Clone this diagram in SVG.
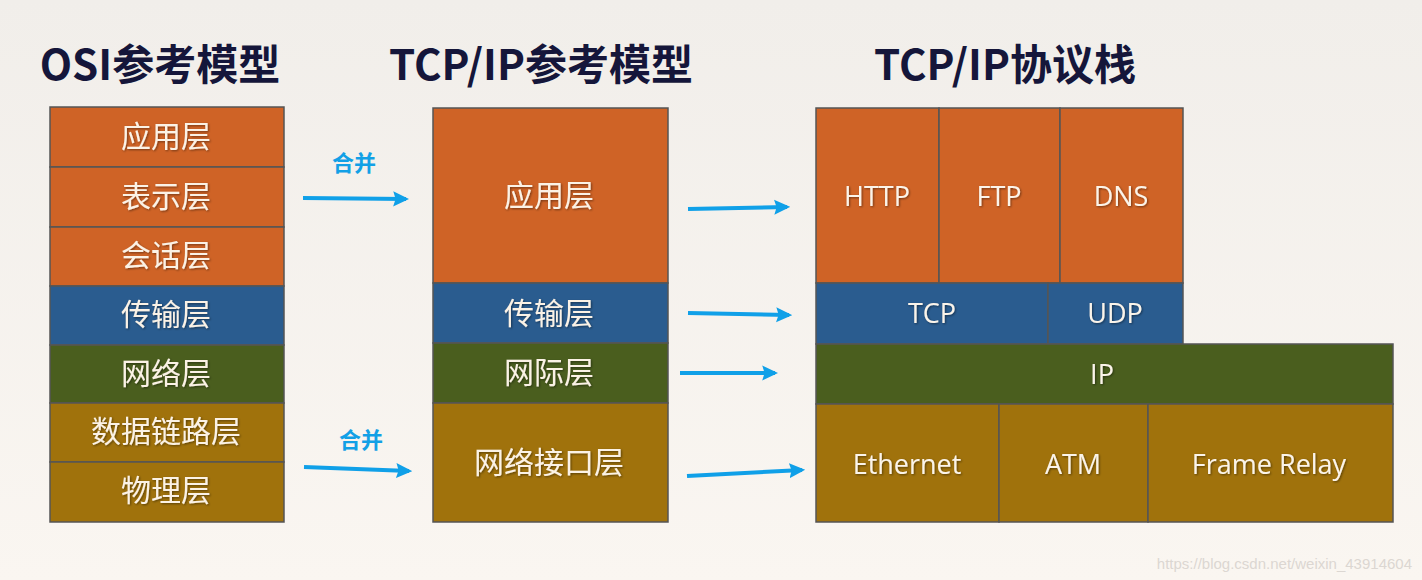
<svg xmlns="http://www.w3.org/2000/svg" width="1422" height="580" viewBox="0 0 1422 580">
<style>
.title{font-family:"Noto Sans CJK SC","Noto Sans",sans-serif;font-weight:bold;font-size:42px;fill:#15163a;text-anchor:middle}
.cn{font-family:"Noto Sans CJK SC",sans-serif;font-size:30px;fill:#fbf2e6;text-anchor:middle;dominant-baseline:central;filter:url(#sh)}
.en{font-family:"Open Sans","Noto Sans",sans-serif;font-size:27px;fill:#fbf4ea;text-anchor:middle;dominant-baseline:central;filter:url(#sh)}
.lbl{font-family:"Noto Sans CJK SC",sans-serif;font-weight:bold;font-size:22px;fill:#12a0e6;text-anchor:middle;dominant-baseline:central}
.o{fill:#cf6326;stroke:#555;stroke-width:1.5}
.b{fill:#2a5c8f;stroke:#555;stroke-width:1.5}
.g{fill:#4a5e1e;stroke:#555;stroke-width:1.5}
.y{fill:#a0720c;stroke:#555;stroke-width:1.5}
.arr{stroke:#10a0e8;stroke-width:4;fill:none;marker-end:url(#ah)}
</style>
<defs>
<linearGradient id="bg" x1="0" y1="0" x2="0" y2="1">
<stop offset="0" stop-color="#f1eeea"/>
<stop offset="1" stop-color="#faf6f1"/>
</linearGradient>
<marker id="ah" viewBox="0 0 10 10" refX="8" refY="5" markerWidth="4" markerHeight="4" orient="auto" markerUnits="strokeWidth">
<path d="M0,0.3 L10,5 L0,9.7 L1.5,5 Z" fill="#10a0e8"/>
</marker>
<filter id="sh" x="-10%" y="-20%" width="120%" height="140%">
<feDropShadow dx="1" dy="1" stdDeviation="0.8" flood-color="#000" flood-opacity="0.45"/>
</filter>
</defs>
<rect width="1422" height="580" fill="url(#bg)"/>

<g id="titles">
<text class="title" x="160" y="80">OSI参考模型</text>
<text class="title" x="541" y="80">TCP/IP参考模型</text>
<text class="title" x="1005" y="80">TCP/IP协议栈</text>
</g>

<g id="osi">
<g id="osi-app"><rect class="o" x="50" y="107" width="234" height="60"/><text class="cn" x="166" y="134">应用层</text></g>
<g id="osi-pres"><rect class="o" x="50" y="167" width="234" height="60"/><text class="cn" x="166" y="194">表示层</text></g>
<g id="osi-sess"><rect class="o" x="50" y="227" width="234" height="59"/><text class="cn" x="166" y="253">会话层</text></g>
<g id="osi-trans"><rect class="b" x="50" y="286" width="234" height="59"/><text class="cn" x="166" y="312">传输层</text></g>
<g id="osi-net"><rect class="g" x="50" y="345" width="234" height="58"/><text class="cn" x="166" y="371">网络层</text></g>
<g id="osi-dl"><rect class="y" x="50" y="403" width="234" height="59"/><text class="cn" x="166" y="429">数据链路层</text></g>
<g id="osi-phy"><rect class="y" x="50" y="462" width="234" height="60"/><text class="cn" x="166" y="488">物理层</text></g>
</g>

<g id="tcpip">
<g id="tcp-app"><rect class="o" x="433" y="108" width="235" height="175"/><text class="cn" x="549" y="193">应用层</text></g>
<g id="tcp-trans"><rect class="b" x="433" y="283" width="235" height="60"/><text class="cn" x="549" y="311">传输层</text></g>
<g id="tcp-inet"><rect class="g" x="433" y="343" width="235" height="60"/><text class="cn" x="549" y="370">网际层</text></g>
<g id="tcp-link"><rect class="y" x="433" y="403" width="235" height="119"/><text class="cn" x="549" y="460">网络接口层</text></g>
</g>

<g id="stack">
<g id="http"><rect class="o" x="816" y="108" width="123" height="175"/><text class="en" x="877" y="195">HTTP</text></g>
<g id="ftp"><rect class="o" x="939" y="108" width="121" height="175"/><text class="en" x="999" y="195">FTP</text></g>
<g id="dns"><rect class="o" x="1060" y="108" width="123" height="175"/><text class="en" x="1121" y="195">DNS</text></g>
<g id="tcp"><rect class="b" x="816" y="283" width="232" height="61"/><text class="en" x="932" y="312">TCP</text></g>
<g id="udp"><rect class="b" x="1048" y="283" width="135" height="61"/><text class="en" x="1115" y="312">UDP</text></g>
<g id="ip"><rect class="g" x="816" y="344" width="577" height="60"/><text class="en" x="1102" y="373">IP</text></g>
<g id="ethernet"><rect class="y" x="816" y="404" width="183" height="118"/><text class="en" x="907" y="463">Ethernet</text></g>
<g id="atm"><rect class="y" x="999" y="404" width="149" height="118"/><text class="en" x="1073" y="463">ATM</text></g>
<g id="framerelay"><rect class="y" x="1148" y="404" width="245" height="118"/><text class="en" x="1269" y="463">Frame Relay</text></g>
</g>

<g id="connectors">
<path class="arr" d="M303,198 L406,199"/>
<path class="arr" d="M304,467 L409,471"/>
<path class="arr" d="M688,209 L787,207"/>
<path class="arr" d="M688,313 L789,315"/>
<path class="arr" d="M680,373 L775,373"/>
<path class="arr" d="M687,476 L802,470"/>
<text class="lbl" x="354" y="161">合并</text>
<text class="lbl" x="361" y="438">合并</text>
</g>

<text x="1412" y="569" font-family="Liberation Sans, Arial, sans-serif" font-size="15" fill="#dcd7d2" text-anchor="end">https://blog.csdn.net/weixin_43914604</text>
</svg>
